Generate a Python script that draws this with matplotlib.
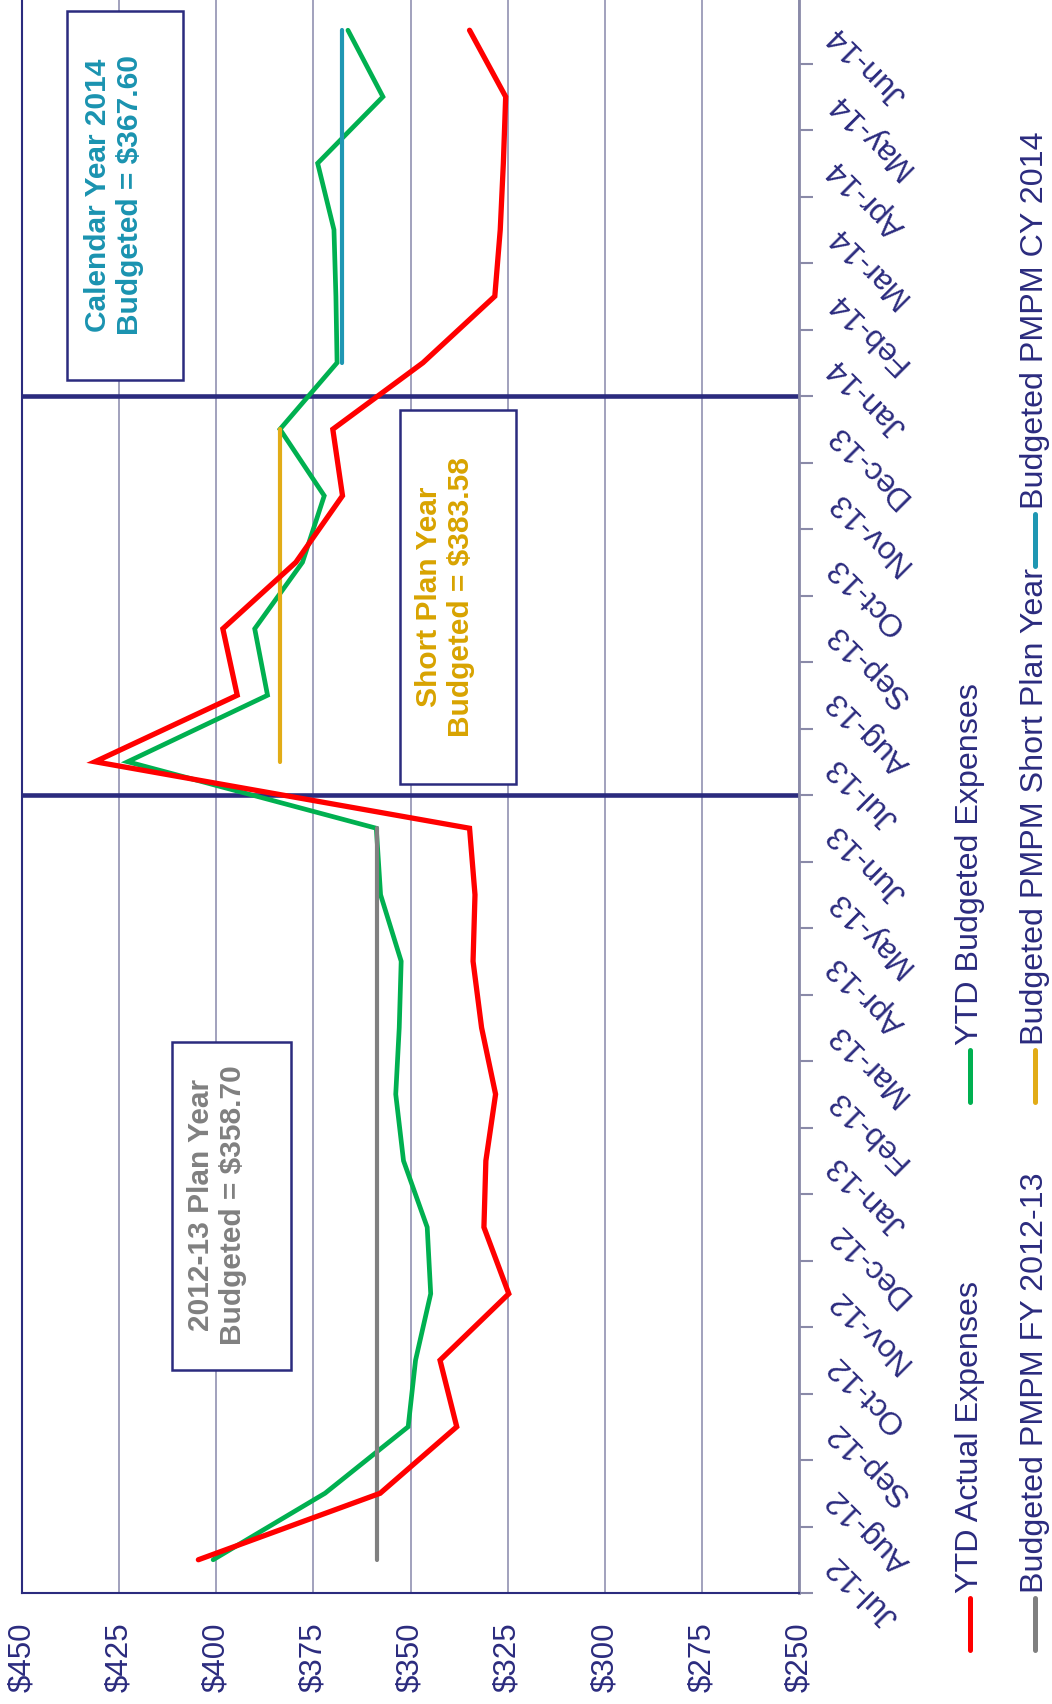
import numpy as np
import matplotlib.pyplot as plt
from matplotlib.lines import Line2D
from matplotlib.patches import Rectangle

plt.rcParams['font.family'] = ['Liberation Sans', 'DejaVu Sans']

months = ['Jul-12', 'Aug-12', 'Sep-12', 'Oct-12', 'Nov-12', 'Dec-12',
          'Jan-13', 'Feb-13', 'Mar-13', 'Apr-13', 'May-13', 'Jun-13',
          'Jul-13', 'Aug-13', 'Sep-13', 'Oct-13', 'Nov-13', 'Dec-13',
          'Jan-14', 'Feb-14', 'Mar-14', 'Apr-14', 'May-14', 'Jun-14']
ytd_actual = [404.6, 357.8, 338.1, 342.4, 324.7, 331.1, 330.6, 328.1, 331.7, 333.9, 333.4, 334.8,
              431.2, 394.6, 398.3, 379.5, 367.5, 370.0, 346.8, 328.3, 326.9, 326.1, 325.5, 334.8]
ytd_budget = [400.8, 372.0, 350.6, 348.7, 344.8, 345.7, 351.8, 353.8, 352.9, 352.4, 357.7, 358.8,
              422.8, 386.8, 390.1, 377.8, 372.2, 383.6, 368.9, 369.2, 369.7, 373.9, 357.1, 366.1]
budget_fy1213 = 358.70   # Jul-12 .. Jun-13
budget_short = 383.58    # Jul-13 .. Dec-13
budget_cy2014 = 367.60   # Jan-14 .. Jun-14
value_ticks = [250, 275, 300, 325, 350, 375, 400, 425, 450]

NAVY = '#2b2b7e'
GRID = '#9a9ab8'
RED = '#ff0000'
GREEN = '#00b050'
GRAY = '#808080'
GOLD = '#e2ac17'
TEAL = '#1f97b3'

W, H = 1052, 1704
fig = plt.figure(figsize=(W / 100, H / 100), dpi=100)


def fx(x):
    return x / W


def fy(y):
    return 1 - y / H


# chart is laid out sideways: values run right-to-left, months bottom-to-top
ax = fig.add_axes([fx(22), fy(1593), fx(799) - fx(22), fy(-3) - fy(1593)])
ax.set_xlim(450, 250)
ax.set_ylim(0, 24)

pos = np.arange(len(months)) + 0.5
ax.plot(ytd_budget, pos, color=GREEN, lw=3.4, solid_capstyle='round', solid_joinstyle='miter', zorder=3)
ax.plot([budget_fy1213] * 12, pos[:12], color=GRAY, lw=3.0, solid_capstyle='round', zorder=4)
ax.plot([budget_short] * 6, pos[12:18], color=GOLD, lw=3.0, solid_capstyle='round', zorder=4)
ax.plot([budget_cy2014] * 6, pos[18:], color=TEAL, lw=3.0, solid_capstyle='round', zorder=4)
ax.plot(ytd_actual, pos, color=RED, lw=3.8, solid_capstyle='round', solid_joinstyle='miter', zorder=5)

# plan year boundaries
for b in (12, 18):
    ax.axhline(b, color=NAVY, lw=3.3, zorder=2)

ax.set_xticks(value_ticks)
ax.set_xticklabels(['$%d' % v for v in value_ticks])
ax.tick_params(axis='x', length=0, pad=21, labelsize=22.5, labelcolor=NAVY, labelrotation=90)
ax.grid(axis='x', color=GRID, lw=1.3, zorder=1)
ax.set_axisbelow(True)

ax.yaxis.tick_right()
ax.set_yticks(np.arange(25))
ax.set_yticklabels([])
ax.set_yticks(pos, labels=months, minor=True)
ax.tick_params(axis='y', which='major', length=10, width=1.5, color='#8a8aa8', direction='out')
ax.tick_params(axis='y', which='minor', length=0, pad=24, labelsize=23, labelcolor=NAVY)
for t in ax.yaxis.get_minor_ticks():
    t.label2.set(rotation=135, rotation_mode='anchor', ha='right', va='center')

ax.spines['top'].set_visible(False)
ax.spines['left'].set_color(NAVY)
ax.spines['left'].set_linewidth(1.5)
ax.spines['bottom'].set_color(NAVY)
ax.spines['bottom'].set_linewidth(1.5)
ax.spines['right'].set_color('#8a8aa8')
ax.spines['right'].set_linewidth(2)

# plan-year note boxes
boxes = [
    ((67, 11, 183, 380), (114, 195), 'Calendar Year 2014\nBudgeted = $%.2f' % budget_cy2014, '#1a93b0'),
    ((400, 410, 516, 784), (445, 597), 'Short Plan Year\nBudgeted = $%.2f' % budget_short, '#d8a300'),
    ((172, 1042, 291, 1370), (217, 1205), '2012-13 Plan Year\nBudgeted = $%.2f' % budget_fy1213, GRAY),
]
for (x0, y0, x1, y1), (tx, ty), txt, c in boxes:
    fig.add_artist(Rectangle((fx(x0), fy(y1)), fx(x1) - fx(x0), fy(y0) - fy(y1),
                             transform=fig.transFigure, facecolor='white', edgecolor=NAVY, lw=1.8, zorder=6))
    fig.text(fx(tx), fy(ty), txt, rotation=90, ha='center', va='center', multialignment='center',
             fontsize=21.5, fontweight='bold', color=c, linespacing=1.2, zorder=7)

# legend, written sideways
legend = [
    (970, 1650, 'YTD Actual Expenses', RED),
    (970, 1102, 'YTD Budgeted Expenses', GREEN),
    (1035, 1650, 'Budgeted PMPM FY 2012-13', GRAY),
    (1035, 1102, 'Budgeted PMPM Short Plan Year', GOLD),
    (1035, 566, 'Budgeted PMPM CY 2014', TEAL),
]
for x, y, label, c in legend:
    fig.add_artist(Line2D([fx(x), fx(x)], [fy(y), fy(y - 52)], transform=fig.transFigure,
                          color=c, lw=3.6, solid_capstyle='round'))
    fig.text(fx(x), fy(y - 57), label, rotation=90, ha='center', va='bottom', fontsize=23.2, color=NAVY)

fig.savefig('out.png', dpi=100)
